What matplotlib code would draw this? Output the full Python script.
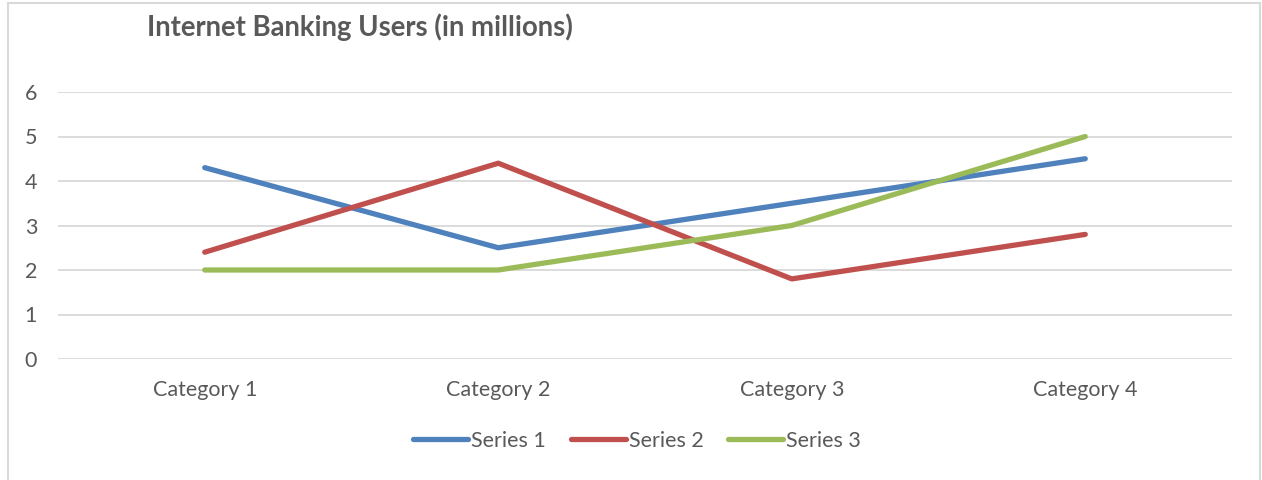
import matplotlib.pyplot as plt
from matplotlib.patches import Rectangle

plt.rcParams['font.family'] = ['Lato', 'DejaVu Sans']

categories = ['Category 1', 'Category 2', 'Category 3', 'Category 4']
series_1 = [4.3, 2.5, 3.5, 4.5]
series_2 = [2.4, 4.4, 1.8, 2.8]
series_3 = [2.0, 2.0, 3.0, 5.0]
series_names = ['Series 1', 'Series 2', 'Series 3']
colors = ['#4F81BD', '#C0504D', '#9BBB59']

text_col = '#595959'
grid_col = '#d9d9d9'

fig = plt.figure(figsize=(12.62, 4.80), dpi=100)
ax = fig.add_axes([58 / 1262, 1 - 359 / 480, (1232 - 58) / 1262, (359 - 92) / 480])

x = range(len(categories))
for vals, name, c in zip([series_1, series_2, series_3], series_names, colors):
    ax.plot(x, vals, color=c, lw=3.8, label=name, solid_capstyle='round')

ax.set_xlim(-0.5, 3.5)
ax.set_ylim(0, 6)
ax.set_yticks(range(0, 7))
ax.set_xticks(list(x))
ax.set_xticklabels(categories)
ax.grid(axis='y', color=grid_col, lw=1.3)
ax.set_axisbelow(True)
for s in ax.spines.values():
    s.set_visible(False)
ax.tick_params(length=0, labelsize=15.5, colors=text_col)
ax.tick_params(axis='y', pad=15)
ax.tick_params(axis='x', pad=15)

# chart title, top left like the original
fig.text(147 / 1262, 1 - 27 / 480, 'Internet Banking Users (in millions)',
         fontsize=19.8, fontweight='bold', color=text_col, va='center', ha='left')

leg = fig.legend(loc='center', bbox_to_anchor=(637 / 1262, 1 - 441 / 480), ncol=3,
                 frameon=False, fontsize=15.5, handlelength=2.55, handletextpad=0.14,
                 columnspacing=1.15)
for t in leg.get_texts():
    t.set_color(text_col)

# light frame round the chart area
fig.patches.append(Rectangle((8 / 1262, -0.05), (1260 - 8) / 1262, 1.05 - 3 / 480,
                             transform=fig.transFigure, fill=False,
                             edgecolor=grid_col, lw=1.5))

fig.savefig('out.png', dpi=100)
